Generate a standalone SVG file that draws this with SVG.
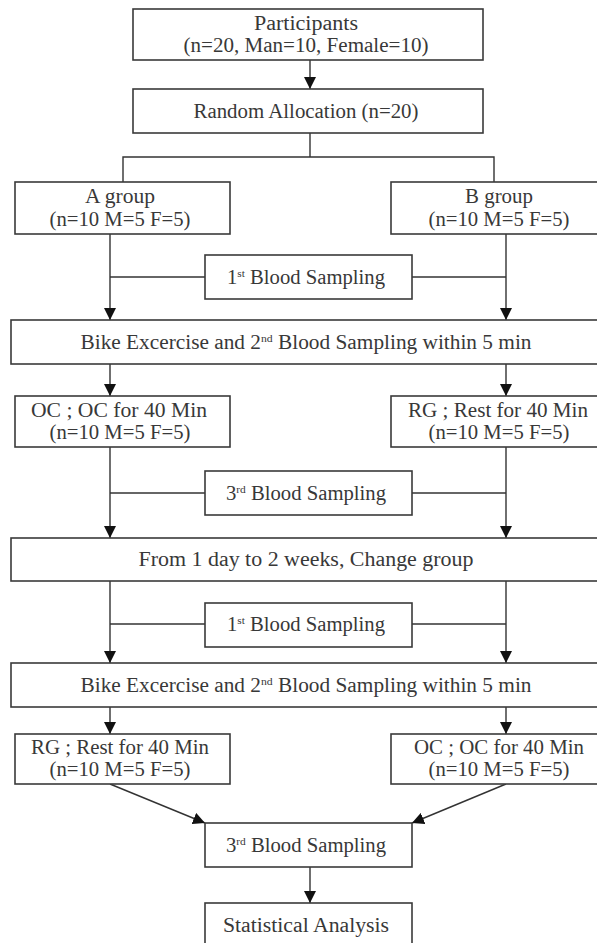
<svg xmlns="http://www.w3.org/2000/svg" width="597" height="943" viewBox="0 0 597 943">
<style>
.box{fill:#fff;stroke:#3a3a3a;stroke-width:1.6}
.ln{fill:none;stroke:#333;stroke-width:1.4}
.t{font-family:"Liberation Serif","Times New Roman",serif;font-size:20px;fill:#383838;text-anchor:middle}
.sup{font-size:11px}
</style>
<defs>
<marker id="ah" markerUnits="userSpaceOnUse" markerWidth="12" markerHeight="12" viewBox="0 0 12 12" refX="12" refY="6" orient="auto">
<path d="M0,0 L12,6 L0,12 Z" fill="#111"/>
</marker>
</defs>
<rect width="597" height="943" fill="#fff"/>
<g id="connectors">
<line class="ln" x1="310" y1="60" x2="310" y2="89" marker-end="url(#ah)"/>
<polyline class="ln" points="310,133 310,157"/>
<polyline class="ln" points="123,182 123,157 494,157 494,182"/>
<line class="ln" x1="110" y1="234" x2="110" y2="320" marker-end="url(#ah)"/>
<line class="ln" x1="506" y1="234" x2="506" y2="320" marker-end="url(#ah)"/>
<line class="ln" x1="110" y1="277" x2="205" y2="277"/>
<line class="ln" x1="412" y1="277" x2="506" y2="277"/>
<line class="ln" x1="110" y1="364" x2="110" y2="396" marker-end="url(#ah)"/>
<line class="ln" x1="506" y1="364" x2="506" y2="396" marker-end="url(#ah)"/>
<line class="ln" x1="110" y1="447" x2="110" y2="538" marker-end="url(#ah)"/>
<line class="ln" x1="506" y1="447" x2="506" y2="538" marker-end="url(#ah)"/>
<line class="ln" x1="110" y1="493" x2="205" y2="493"/>
<line class="ln" x1="412" y1="493" x2="506" y2="493"/>
<line class="ln" x1="110" y1="581" x2="110" y2="663" marker-end="url(#ah)"/>
<line class="ln" x1="506" y1="581" x2="506" y2="663" marker-end="url(#ah)"/>
<line class="ln" x1="110" y1="624" x2="205" y2="624"/>
<line class="ln" x1="412" y1="624" x2="506" y2="624"/>
<line class="ln" x1="110" y1="707" x2="110" y2="734" marker-end="url(#ah)"/>
<line class="ln" x1="506" y1="707" x2="506" y2="734" marker-end="url(#ah)"/>
<line class="ln" x1="110" y1="784" x2="205" y2="823" marker-end="url(#ah)"/>
<line class="ln" x1="506" y1="784" x2="412" y2="823" marker-end="url(#ah)"/>
<line class="ln" x1="310" y1="867" x2="310" y2="903" marker-end="url(#ah)"/>
</g>
<g id="participants">
<rect class="box" x="133" y="9" width="350" height="51"/>
<text class="t" x="306" y="30" textLength="104" lengthAdjust="spacingAndGlyphs">Participants</text>
<text class="t" x="306" y="52" textLength="245" lengthAdjust="spacingAndGlyphs">(n=20, Man=10, Female=10)</text>
</g>
<g id="random">
<rect class="box" x="133" y="89" width="350" height="44"/>
<text class="t" x="306" y="118" textLength="225" lengthAdjust="spacingAndGlyphs">Random Allocation (n=20)</text>
</g>
<g id="groupA">
<rect class="box" x="15" y="182" width="215" height="52"/>
<text class="t" x="120" y="203" textLength="70" lengthAdjust="spacingAndGlyphs">A group</text>
<text class="t" x="120" y="226" textLength="141" lengthAdjust="spacingAndGlyphs">(n=10 M=5 F=5)</text>
</g>
<g id="groupB">
<rect class="box" x="391" y="182" width="216" height="52"/>
<text class="t" x="499" y="203" textLength="68" lengthAdjust="spacingAndGlyphs">B group</text>
<text class="t" x="499" y="226" textLength="141" lengthAdjust="spacingAndGlyphs">(n=10 M=5 F=5)</text>
</g>
<g id="blood1a">
<rect class="box" x="205" y="255" width="207" height="44"/>
<text class="t" x="306" y="284" textLength="158" lengthAdjust="spacingAndGlyphs">1<tspan class="sup" dy="-7">st</tspan><tspan dy="7"> Blood Sampling</tspan></text>
</g>
<g id="bike1">
<rect class="box" x="11" y="320" width="592" height="44"/>
<text class="t" x="306" y="349" textLength="451" lengthAdjust="spacingAndGlyphs">Bike Excercise and 2<tspan class="sup" dy="-7">nd</tspan><tspan dy="7"> Blood Sampling within 5 min</tspan></text>
</g>
<g id="oc1">
<rect class="box" x="15" y="396" width="215" height="51"/>
<text class="t" x="119" y="417" textLength="176" lengthAdjust="spacingAndGlyphs">OC ; OC for 40 Min</text>
<text class="t" x="120" y="439" textLength="141" lengthAdjust="spacingAndGlyphs">(n=10 M=5 F=5)</text>
</g>
<g id="rg1">
<rect class="box" x="391" y="396" width="216" height="51"/>
<text class="t" x="498" y="417" textLength="180" lengthAdjust="spacingAndGlyphs">RG ; Rest for 40 Min</text>
<text class="t" x="499" y="439" textLength="141" lengthAdjust="spacingAndGlyphs">(n=10 M=5 F=5)</text>
</g>
<g id="blood3a">
<rect class="box" x="205" y="471" width="207" height="44"/>
<text class="t" x="306" y="500" textLength="160" lengthAdjust="spacingAndGlyphs">3<tspan class="sup" dy="-7">rd</tspan><tspan dy="7"> Blood Sampling</tspan></text>
</g>
<g id="change">
<rect class="box" x="11" y="538" width="592" height="43"/>
<text class="t" x="306" y="566" textLength="335" lengthAdjust="spacingAndGlyphs">From 1 day to 2 weeks, Change group</text>
</g>
<g id="blood1b">
<rect class="box" x="205" y="603" width="207" height="44"/>
<text class="t" x="306" y="631" textLength="158" lengthAdjust="spacingAndGlyphs">1<tspan class="sup" dy="-7">st</tspan><tspan dy="7"> Blood Sampling</tspan></text>
</g>
<g id="bike2">
<rect class="box" x="11" y="663" width="592" height="44"/>
<text class="t" x="306" y="692" textLength="451" lengthAdjust="spacingAndGlyphs">Bike Excercise and 2<tspan class="sup" dy="-7">nd</tspan><tspan dy="7"> Blood Sampling within 5 min</tspan></text>
</g>
<g id="rg2">
<rect class="box" x="15" y="734" width="215" height="50"/>
<text class="t" x="120" y="754" textLength="178" lengthAdjust="spacingAndGlyphs">RG ; Rest for 40 Min</text>
<text class="t" x="120" y="776" textLength="141" lengthAdjust="spacingAndGlyphs">(n=10 M=5 F=5)</text>
</g>
<g id="oc2">
<rect class="box" x="391" y="734" width="216" height="50"/>
<text class="t" x="499" y="754" textLength="170" lengthAdjust="spacingAndGlyphs">OC ; OC for 40 Min</text>
<text class="t" x="499" y="776" textLength="141" lengthAdjust="spacingAndGlyphs">(n=10 M=5 F=5)</text>
</g>
<g id="blood3b">
<rect class="box" x="205" y="823" width="207" height="44"/>
<text class="t" x="306" y="852" textLength="160" lengthAdjust="spacingAndGlyphs">3<tspan class="sup" dy="-7">rd</tspan><tspan dy="7"> Blood Sampling</tspan></text>
</g>
<g id="stats">
<rect class="box" x="205" y="903" width="207" height="50"/>
<text class="t" x="306" y="932" textLength="166" lengthAdjust="spacingAndGlyphs">Statistical Analysis</text>
</g>
</svg>
